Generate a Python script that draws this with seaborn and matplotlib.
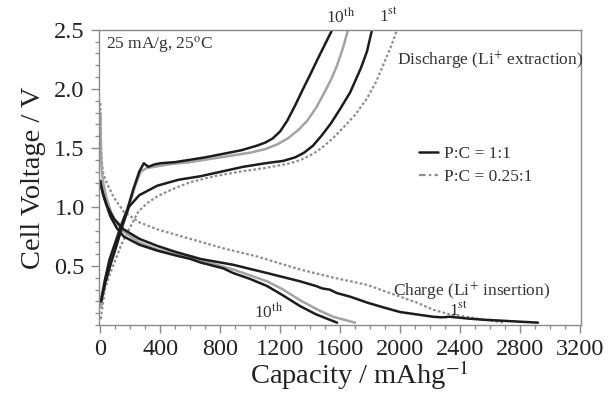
import matplotlib
matplotlib.use("Agg")
import matplotlib.pyplot as plt
import seaborn as sns
from matplotlib.ticker import MultipleLocator, FixedLocator
from matplotlib.lines import Line2D

# ---------------- data ----------------
# discharge (Li+ extraction) curves
d1_black_cap = [5, 15, 33, 70, 100, 147, 190, 260, 380, 520, 667, 810, 953, 1100, 1220, 1300, 1360, 1420, 1480, 1540, 1600, 1667, 1740, 1780, 1813]
d1_black_v   = [0.20, 0.26, 0.36, 0.52, 0.64, 0.84, 1.00, 1.10, 1.18, 1.23, 1.26, 1.30, 1.34, 1.37, 1.39, 1.42, 1.46, 1.52, 1.61, 1.71, 1.83, 1.97, 2.18, 2.32, 2.50]

d10_black_cap = [3, 12, 30, 60, 100, 140, 180, 220, 260, 290, 320, 360, 400, 500, 600, 700, 820, 940, 1047, 1100, 1150, 1200, 1247, 1300, 1353, 1400, 1453, 1500, 1547]
d10_black_v   = [0.20, 0.26, 0.38, 0.55, 0.70, 0.85, 0.98, 1.15, 1.30, 1.37, 1.34, 1.36, 1.37, 1.38, 1.40, 1.42, 1.45, 1.48, 1.52, 1.545, 1.58, 1.64, 1.73, 1.86, 2.00, 2.12, 2.26, 2.38, 2.50]

d10_gray_cap = [3, 15, 35, 65, 105, 150, 190, 230, 270, 310, 360, 450, 600, 750, 900, 1000, 1100, 1180, 1250, 1320, 1380, 1440, 1487, 1540, 1580, 1620, 1653]
d10_gray_v   = [0.15, 0.24, 0.36, 0.52, 0.68, 0.85, 1.00, 1.17, 1.30, 1.33, 1.34, 1.36, 1.38, 1.41, 1.44, 1.46, 1.49, 1.53, 1.58, 1.65, 1.73, 1.84, 1.95, 2.08, 2.20, 2.35, 2.50]

d1_gray_cap = [3, 10, 30, 60, 100, 140, 187, 253, 310, 380, 480, 600, 760, 933, 1100, 1267, 1340, 1420, 1487, 1550, 1620, 1700, 1780, 1840, 1887, 1940, 1980]
d1_gray_v   = [0.05, 0.12, 0.30, 0.42, 0.55, 0.68, 0.80, 0.96, 1.03, 1.09, 1.15, 1.21, 1.26, 1.30, 1.33, 1.37, 1.40, 1.45, 1.51, 1.58, 1.67, 1.78, 1.92, 2.06, 2.20, 2.36, 2.50]

# charge (Li+ insertion) curves
c1_black_cap = [0, 5, 20, 44, 90, 156, 260, 380, 500, 667, 887, 1113, 1333, 1440, 1480, 1530, 1580, 1667, 1780, 1887, 2000, 2110, 2220, 2280, 2333, 2450, 2553, 2700, 2850, 2920]
c1_black_v   = [1.22, 1.18, 1.10, 1.01, 0.90, 0.81, 0.73, 0.67, 0.62, 0.56, 0.51, 0.44, 0.37, 0.33, 0.31, 0.30, 0.27, 0.24, 0.19, 0.15, 0.11, 0.09, 0.07, 0.065, 0.07, 0.055, 0.045, 0.035, 0.025, 0.02]

c1_gray_cap = [0, 2, 5, 10, 20, 44, 90, 156, 260, 380, 600, 820, 1047, 1333, 1560, 1780, 2000, 2113, 2220, 2333, 2447, 2560, 2700]
c1_gray_v   = [1.88, 1.70, 1.50, 1.38, 1.28, 1.20, 1.08, 0.96, 0.87, 0.81, 0.73, 0.65, 0.58, 0.47, 0.40, 0.34, 0.24, 0.19, 0.13, 0.09, 0.07, 0.045, 0.02]

c10_black_cap = [0, 5, 20, 40, 67, 110, 156, 260, 380, 500, 600, 667, 820, 887, 1000, 1113, 1220, 1333, 1440, 1520, 1580]
c10_black_v   = [1.22, 1.18, 1.10, 1.02, 0.92, 0.82, 0.75, 0.68, 0.63, 0.59, 0.56, 0.53, 0.48, 0.44, 0.39, 0.33, 0.25, 0.16, 0.09, 0.05, 0.02]

c10_gray_cap = [0, 2, 5, 10, 20, 40, 70, 110, 156, 260, 380, 500, 667, 887, 1000, 1113, 1220, 1333, 1450, 1553, 1640, 1700]
c10_gray_v   = [1.80, 1.60, 1.42, 1.30, 1.20, 1.08, 0.96, 0.86, 0.79, 0.70, 0.64, 0.60, 0.55, 0.47, 0.42, 0.37, 0.30, 0.21, 0.13, 0.07, 0.04, 0.02]

legend_labels = ["P:C = 1:1", "P:C = 0.25:1"]
x_ticks = [0, 400, 800, 1200, 1600, 2000, 2400, 2800, 3200]
y_ticks = [0.5, 1.0, 1.5, 2.0, 2.5]

# ---------------- style ----------------
sns.set_style("ticks")
plt.rcParams["font.family"] = ["Liberation Serif", "DejaVu Serif"]
plt.rcParams["mathtext.fontset"] = "stix"

BLACK = "#1c1c1c"
GRAY10 = "#a3a3a3"
GRAY1 = "#8e8e8e"
TXT = "#333333"

fig = plt.figure(figsize=(6.16, 3.93), dpi=100)
ax = fig.add_axes([0.160, 0.173, 0.783, 0.751])

kw = dict(sort=False, estimator=None, ax=ax)
sns.lineplot(x=d1_gray_cap, y=d1_gray_v, color=GRAY1, lw=1.6, **kw).lines[-1].set_dashes((1.2, 1.0))
sns.lineplot(x=c1_gray_cap, y=c1_gray_v, color=GRAY1, lw=1.6, **kw).lines[-1].set_dashes((1.2, 1.0))
sns.lineplot(x=d10_gray_cap, y=d10_gray_v, color=GRAY10, lw=1.8, **kw)
sns.lineplot(x=c10_gray_cap, y=c10_gray_v, color=GRAY10, lw=1.8, **kw)
sns.lineplot(x=d1_black_cap, y=d1_black_v, color=BLACK, lw=1.8, **kw)
sns.lineplot(x=d10_black_cap, y=d10_black_v, color=BLACK, lw=1.8, **kw)
sns.lineplot(x=c1_black_cap, y=c1_black_v, color=BLACK, lw=1.8, **kw)
sns.lineplot(x=c10_black_cap, y=c10_black_v, color=BLACK, lw=1.8, **kw)

ax.set_xlim(-12, 3207)
ax.set_ylim(0.0, 2.5)
ax.xaxis.set_major_locator(FixedLocator(x_ticks))
ax.xaxis.set_minor_locator(MultipleLocator(100))
ax.yaxis.set_major_locator(FixedLocator(y_ticks))
ax.yaxis.set_minor_locator(MultipleLocator(0.1))
ax.set_xticklabels([str(t) for t in x_ticks])
ax.set_yticklabels([f"{t:.1f}" for t in y_ticks])

for s in ax.spines.values():
    s.set_color("#8a8a8a")
    s.set_linewidth(1.0)
ax.tick_params(which="major", direction="out", length=6, width=1.0, color="#8a8a8a",
               labelsize=17.5, labelcolor="#222222", pad=4)
ax.tick_params(which="minor", direction="out", length=3, width=0.9, color="#8a8a8a")

ax.set_xlabel("Capacity / mAhg$^{-1}$", fontsize=20.5, color="#222222")
ax.xaxis.set_label_coords(0.54, -0.112)
ax.set_ylabel("Cell Voltage / V", fontsize=20.5, color="#222222", labelpad=6)

# legend
h1 = Line2D([], [], color=BLACK, lw=1.8)
h2 = Line2D([], [], color=GRAY1, lw=1.6, dashes=(3.0, 1.5, 1.0, 1.5))
ax.legend([h1, h2], legend_labels, loc="upper left", bbox_to_anchor=(0.664, 0.607),
          frameon=False, fontsize=12.5, handlelength=1.1, handletextpad=0.35,
          labelspacing=0.42, borderpad=0, borderaxespad=0, labelcolor=TXT)

# annotations
tk = dict(color=TXT, fontsize=12.5)
ax.text(0.016, 0.95, "25 mA/g, 25$^{\\mathrm{o}}$C", transform=ax.transAxes, ha="left", va="center", **tk)
ax.text(1605, 2.61, "10$^{\\mathrm{th}}$", ha="center", va="center", clip_on=False, **tk)
ax.text(1925, 2.61, "1$^{\\mathrm{st}}$", ha="center", va="center", clip_on=False, **tk)
ax.text(1980, 2.24, "Discharge (Li$^{+}$ extraction)", ha="left", va="center", **tk)
ax.text(1950, 0.28, "Charge (Li$^{+}$ insertion)", ha="left", va="center", **tk)
ax.text(2390, 0.12, "1$^{\\mathrm{st}}$", ha="center", va="center", **tk)
ax.text(1120, 0.11, "10$^{\\mathrm{th}}$", ha="center", va="center", **tk)

fig.savefig("out.png", dpi=100)
